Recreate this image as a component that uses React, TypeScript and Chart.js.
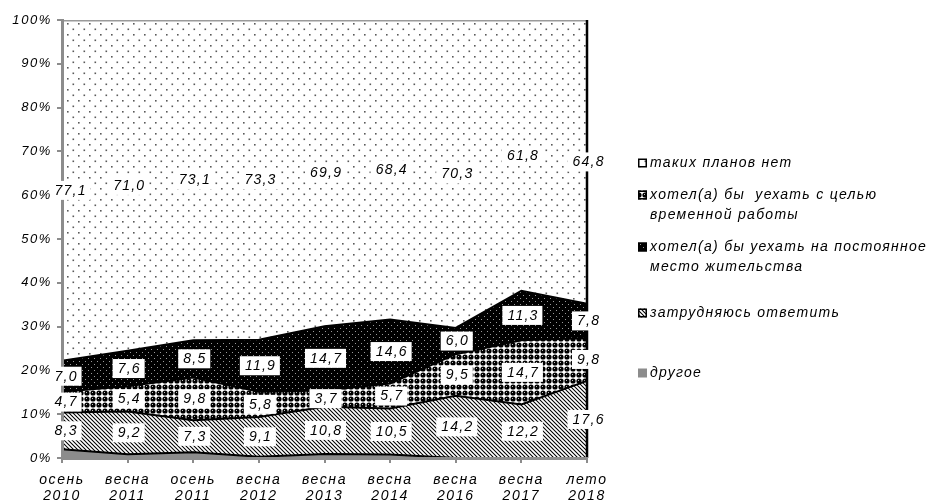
import React, { useEffect, useRef } from 'react';
import { Chart, registerables } from 'chart.js';

Chart.register(...registerables);

// ---------- data ----------
const CATEGORIES: string[][] = [
  ['осень', '2010'],
  ['весна', '2011'],
  ['осень', '2011'],
  ['весна', '2012'],
  ['весна', '2013'],
  ['весна', '2014'],
  ['весна', '2016'],
  ['весна', '2017'],
  ['лето', '2018'],
];

const OTHER = [2.0, 0.8, 1.3, 0.3, 0.9, 0.8, 0.0, 0.0, 0.0];
const UNSURE = [8.3, 9.2, 7.3, 9.1, 10.8, 10.5, 14.2, 12.2, 17.6];
const TEMPORARY = [4.7, 5.4, 9.8, 5.8, 3.7, 5.7, 9.5, 14.7, 9.8];
const PERMANENT = [7.0, 7.6, 8.5, 11.9, 14.7, 14.6, 6.0, 11.3, 7.8];
const NO_PLANS = [77.1, 71.0, 73.1, 73.3, 69.9, 68.4, 70.3, 61.8, 64.8];

const NAME_OTHER = 'другое';
const NAME_UNSURE = 'затрудняюсь ответить';
const NAME_TEMPORARY = 'хотел(а) бы  уехать с целью\nвременной работы';
const NAME_PERMANENT = 'хотел(а) бы уехать на постоянное\nместо жительства';
const NAME_NO_PLANS = 'таких планов нет';

const Y_MIN = 0;
const Y_MAX = 100;
const Y_STEP = 10;

const FONT_FAMILY = '"Liberation Sans", Arial, sans-serif';

// ---------- patterns ----------
function makePattern(
  ctx: CanvasRenderingContext2D,
  w: number,
  h: number,
  draw: (g: CanvasRenderingContext2D) => void
): CanvasPattern {
  const c = document.createElement('canvas');
  c.width = w;
  c.height = h;
  const g = c.getContext('2d') as CanvasRenderingContext2D;
  draw(g);
  return ctx.createPattern(c, 'repeat') as CanvasPattern;
}

function buildPatterns(ctx: CanvasRenderingContext2D) {
  const dots = makePattern(ctx, 11, 11, (g) => {
    g.fillStyle = '#ffffff';
    g.fillRect(0, 0, 11, 11);
    g.fillStyle = '#5a5a5a';
    g.fillRect(1, 1, 1.6, 1.6);
    g.fillRect(6.5, 6.5, 1.6, 1.6);
  });
  const hatch = makePattern(ctx, 4, 4, (g) => {
    g.fillStyle = '#ffffff';
    g.fillRect(0, 0, 4, 4);
    g.strokeStyle = '#000000';
    g.lineWidth = 1.05;
    for (let k = -1; k <= 1; k++) {
      g.beginPath();
      g.moveTo(-1, -1 + k * 4);
      g.lineTo(5, 5 + k * 4);
      g.stroke();
    }
  });
  const spheres = makePattern(ctx, 6, 6, (g) => {
    g.fillStyle = '#ffffff';
    g.fillRect(0, 0, 6, 6);
    g.fillStyle = '#000000';
    g.beginPath();
    g.arc(3, 3, 2.6, 0, Math.PI * 2);
    g.fill();
    g.fillStyle = '#bdbdbd';
    g.fillRect(2, 2, 1, 1);
  });
  const darkDots = makePattern(ctx, 6, 6, (g) => {
    g.fillStyle = '#000000';
    g.fillRect(0, 0, 6, 6);
    g.fillStyle = '#9a9a9a';
    g.fillRect(1, 1, 1, 1);
    g.fillRect(4, 4, 1, 1);
  });
  return { dots, hatch, spheres, darkDots, gray: '#8c8c8c' };
}

const fmt = (v: number) => v.toFixed(1).replace('.', ',');

export default function App() {
  const canvasRef = useRef<HTMLCanvasElement | null>(null);

  useEffect(() => {
    const canvas = canvasRef.current;
    if (!canvas) return;
    const ctx = canvas.getContext('2d') as CanvasRenderingContext2D;
    const p = buildPatterns(ctx);

    // stacking order, bottom to top
    const raw = [OTHER, UNSURE, TEMPORARY, PERMANENT, NO_PLANS];
    const names = [NAME_OTHER, NAME_UNSURE, NAME_TEMPORARY, NAME_PERMANENT, NAME_NO_PLANS];
    const fills: (string | CanvasPattern)[] = [p.gray, p.hatch, p.spheres, p.darkDots, p.dots];
    const showLabels = [false, true, true, true, true];

    // 100% stacked: each column normalised by its total
    const totals = CATEGORIES.map((_, j) => raw.reduce((s, arr) => s + arr[j], 0));
    const normalized = raw.map((arr) => arr.map((v, j) => (v / totals[j]) * 100));

    const datasets = raw.map((_, i) => ({
      label: names[i],
      data: normalized[i],
      backgroundColor: fills[i],
      borderColor: i === 4 ? '#9a9a9a' : '#000000',
      borderWidth: i === 4 ? 3 : 2,
      fill: i === 0 ? 'origin' : '-1',
      pointRadius: 0,
      pointHoverRadius: 0,
      tension: 0,
    }));

    const spacingPlugin = {
      id: 'spacing',
      beforeDraw(chart: any) {
        chart.ctx.letterSpacing = '1.6px';
      },
    };

    const edgePlugin = {
      id: 'rightEdge',
      afterDatasetsDraw(chart: any) {
        const c = chart.ctx as CanvasRenderingContext2D;
        const xs = chart.scales.x;
        const ys = chart.scales.y;
        const area = chart.chartArea;
        const lastX = xs.getPixelForValue(CATEGORIES.length - 1);
        c.save();
        c.strokeStyle = '#000000';
        c.lineWidth = 2.5;
        c.beginPath();
        c.moveTo(lastX, area.top);
        c.lineTo(lastX, ys.getPixelForValue(0));
        c.stroke();
        c.restore();
      },
    };

    const labelsPlugin = {
      id: 'areaLabels',
      afterDraw(chart: any) {
        const c = chart.ctx as CanvasRenderingContext2D;
        const ys = chart.scales.y;
        const area = chart.chartArea;
        c.save();
        c.font = `italic 14px ${FONT_FAMILY}`;
        (c as any).letterSpacing = '1.2px';
        c.textAlign = 'center';
        c.textBaseline = 'middle';
        const y0 = ys.getPixelForValue(0);
        for (let i = 0; i < raw.length; i++) {
          if (!showLabels[i]) continue;
          const meta = chart.getDatasetMeta(i);
          const below = i > 0 ? chart.getDatasetMeta(i - 1) : null;
          meta.data.forEach((pt: any, j: number) => {
            const top = pt.y;
            const bottom = below ? below.data[j].y : y0;
            const cy = (top + bottom) / 2;
            const txt = fmt(raw[i][j]);
            const tw = c.measureText(txt).width;
            const cx = Math.max(pt.x + 1, area.left - 10 + tw / 2 + 2);
            const w = tw + 9;
            const h = 19;
            const left = Math.max(cx - w / 2, area.left - 11);
            const right = cx + w / 2;
            c.fillStyle = '#ffffff';
            c.fillRect(left, cy - h / 2, right - left, h);
            c.fillStyle = '#000000';
            c.fillText(txt, cx + 0.6, cy + 0.5);
          });
        }
        c.restore();
      },
    };

    const legendPlugin = {
      id: 'sideLegend',
      afterDraw(chart: any) {
        const c = chart.ctx as CanvasRenderingContext2D;
        // legend order as in the reference (top to bottom)
        const order = [4, 2, 3, 1, 0];
        const itemTops = [163, 195, 247, 313, 373];
        const lineH = 20.5;
        const markerX = 638;
        const textX = 650;
        const m = 9;
        c.save();
        c.font = `italic 14px ${FONT_FAMILY}`;
        (c as any).letterSpacing = '1.3px';
        c.textAlign = 'left';
        c.textBaseline = 'middle';
        order.forEach((di, k) => {
          const ds = chart.data.datasets[di];
          const y = itemTops[k];
          c.fillStyle = ds.backgroundColor;
          c.fillRect(markerX, y - m / 2, m, m);
          if (di !== 0) {
            c.strokeStyle = '#000000';
            c.lineWidth = 1.5;
            c.strokeRect(markerX + 0.75, y - m / 2 + 0.75, m - 1.5, m - 1.5);
          }
          c.fillStyle = '#000000';
          const lines = String(ds.label).split('\n');
          lines.forEach((ln, li) => {
            c.fillText(ln, textX, y + li * lineH);
          });
        });
        c.restore();
      },
    };

    const axisGrid = {
      display: true,
      drawOnChartArea: false,
      drawTicks: true,
      tickLength: 5,
      color: '#8c8c8c',
      lineWidth: 2,
      z: 1,
    };
    const axisBorder = { display: true, color: '#8c8c8c', width: 3, z: 1 };

    const chart = new Chart(canvas, {
      type: 'line',
      data: {
        labels: CATEGORIES as any,
        datasets: datasets as any,
      },
      options: {
        responsive: false,
        animation: false,
        events: [],
        layout: { padding: { left: 0, right: 362, top: 20, bottom: 0 } },
        plugins: {
          legend: { display: false },
          tooltip: { enabled: false },
          title: { display: false },
        },
        scales: {
          x: {
            type: 'category',
            offset: false,
            grid: axisGrid as any,
            border: axisBorder as any,
            ticks: {
              z: 1,
              color: '#000000',
              autoSkip: false,
              maxRotation: 0,
              minRotation: 0,
              padding: 9,
              font: { family: FONT_FAMILY, style: 'italic', size: 14, lineHeight: 1.15 },
            },
            afterFit: (s: any) => {
              s.height = 46;
            },
          },
          y: {
            stacked: true,
            min: Y_MIN,
            max: Y_MAX,
            grid: axisGrid as any,
            border: axisBorder as any,
            ticks: {
              z: 1,
              stepSize: Y_STEP,
              color: '#000000',
              padding: 5,
              font: { family: FONT_FAMILY, style: 'italic', size: 13 },
              callback: (v: any) => `${v}%`,
            },
            afterFit: (s: any) => {
              s.width = 62;
            },
          },
        },
      },
      plugins: [spacingPlugin, edgePlugin, labelsPlugin, legendPlugin],
    });

    return () => {
      chart.destroy();
    };
  }, []);

  return (
    <div
      style={{
        position: 'fixed',
        left: 0,
        top: 0,
        width: 949,
        height: 504,
        background: '#ffffff',
      }}
    >
      <canvas ref={canvasRef} width={949} height={504} style={{ display: 'block' }} />
    </div>
  );
}
